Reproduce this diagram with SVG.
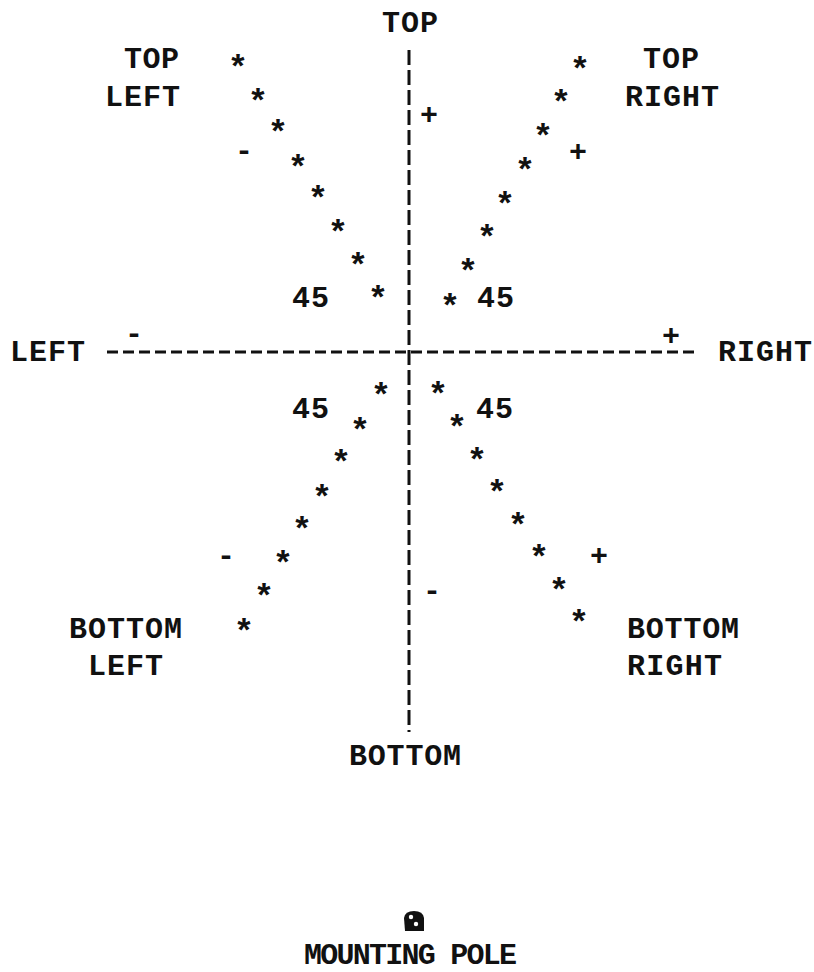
<svg xmlns="http://www.w3.org/2000/svg" width="814" height="972" viewBox="0 0 814 972">
<style>
text{font-family:"Liberation Mono","Courier New",monospace;font-weight:bold;fill:#111;}
.lbl{font-size:30px;}
.ast{font-size:34px;text-anchor:middle;}
.sgn{font-size:30px;text-anchor:middle;}
.axis{stroke:#111;stroke-width:3;fill:none;}
</style>
<rect width="814" height="972" fill="#fff"/>
<g id="connectors">
<line class="axis" x1="409" y1="50" x2="409" y2="732" stroke-dasharray="15 5"/>
<line class="axis" x1="107" y1="352" x2="695" y2="352" stroke-dasharray="11 5"/>
</g>
<g id="top"><text class="lbl" x="382" y="32" textLength="56">TOP</text></g>
<g id="bottom"><text class="lbl" x="349" y="765" textLength="112">BOTTOM</text></g>
<g id="left"><text class="lbl" x="10" y="361" textLength="75">LEFT</text><text class="sgn" x="134" y="343">-</text></g>
<g id="right"><text class="lbl" x="718" y="361" textLength="94">RIGHT</text><text class="sgn" x="671" y="345">+</text></g>
<g id="top-left">
<text class="lbl" x="124" y="68" textLength="55">TOP</text>
<text class="lbl" x="105" y="106" textLength="75">LEFT</text>
<text class="sgn" x="244" y="160">-</text>
<text class="ast" x="238" y="78">*</text><text class="ast" x="258" y="112">*</text><text class="ast" x="278" y="143">*</text><text class="ast" x="298" y="178">*</text><text class="ast" x="318" y="209">*</text><text class="ast" x="338" y="243">*</text><text class="ast" x="358" y="276">*</text><text class="ast" x="378" y="309">*</text>
<text class="lbl" x="292" y="307" textLength="37">45</text>
</g>
<g id="top-right">
<text class="lbl" x="643" y="68" textLength="56">TOP</text>
<text class="lbl" x="625" y="106" textLength="94">RIGHT</text>
<text class="sgn" x="578" y="161">+</text>
<text class="sgn" x="429" y="124">+</text>
<text class="ast" x="580" y="80">*</text><text class="ast" x="561" y="113">*</text><text class="ast" x="543" y="147">*</text><text class="ast" x="525" y="181">*</text><text class="ast" x="505" y="215">*</text><text class="ast" x="487" y="248">*</text><text class="ast" x="468" y="282">*</text><text class="ast" x="450" y="317">*</text>
<text class="lbl" x="477" y="307" textLength="37">45</text>
</g>
<g id="bottom-left">
<text class="lbl" x="69" y="638" textLength="113">BOTTOM</text>
<text class="lbl" x="88" y="675" textLength="75">LEFT</text>
<text class="sgn" x="226" y="565">-</text>
<text class="ast" x="381" y="406">*</text><text class="ast" x="360" y="441">*</text><text class="ast" x="341" y="473">*</text><text class="ast" x="322" y="508">*</text><text class="ast" x="302" y="540">*</text><text class="ast" x="283" y="574">*</text><text class="ast" x="264" y="607">*</text><text class="ast" x="244" y="642">*</text>
<text class="lbl" x="292" y="418" textLength="37">45</text>
</g>
<g id="bottom-right">
<text class="lbl" x="627" y="638" textLength="112">BOTTOM</text>
<text class="lbl" x="627" y="675" textLength="95">RIGHT</text>
<text class="sgn" x="599" y="565">+</text>
<text class="sgn" x="432" y="600">-</text>
<text class="ast" x="438" y="405">*</text><text class="ast" x="457" y="438">*</text><text class="ast" x="477" y="471">*</text><text class="ast" x="497" y="503">*</text><text class="ast" x="518" y="536">*</text><text class="ast" x="539" y="568">*</text><text class="ast" x="559" y="601">*</text><text class="ast" x="579" y="633">*</text>
<text class="lbl" x="476" y="418" textLength="37">45</text>
</g>
<g id="mounting-pole">
<path d="M405 931 L404 918 Q405 911 414 911 Q423 911 424 918 L424 931 Z" fill="#111"/>
<circle cx="411" cy="917" r="2.2" fill="#fff"/>
<circle cx="416" cy="924" r="2.2" fill="#fff"/>
<text class="lbl" x="304" y="964" textLength="213">MOUNTING POLE</text>
</g>
</svg>
